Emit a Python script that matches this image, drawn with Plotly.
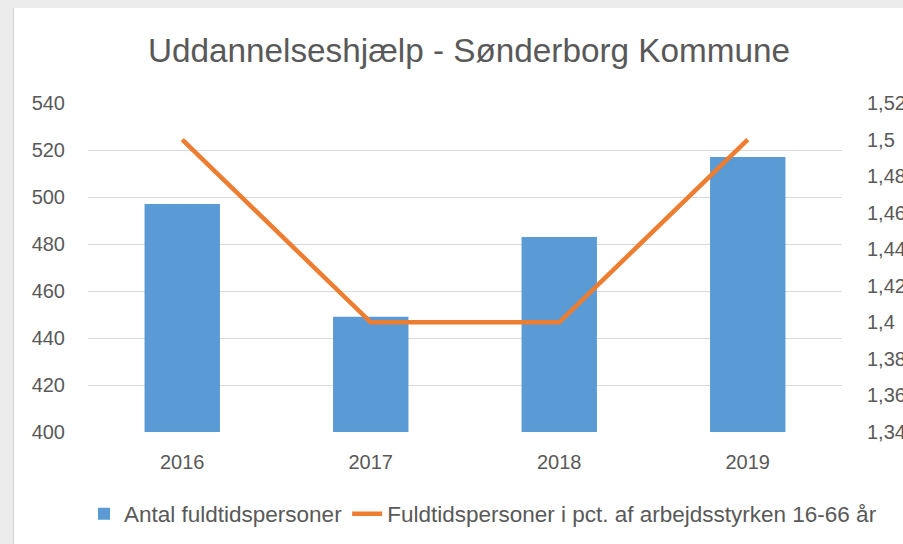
import plotly.graph_objects as go

years = ["2016", "2017", "2018", "2019"]
antal = [497, 449, 483, 517]
pct = [1.5, 1.4, 1.4, 1.5]

left_tickvals = [400, 420, 440, 460, 480, 500, 520, 540]
right_tickvals = [1.34, 1.36, 1.38, 1.40, 1.42, 1.44, 1.46, 1.48, 1.50, 1.52]
right_ticktext = ["1,34", "1,36", "1,38", "1,4", "1,42", "1,44", "1,46", "1,48", "1,5", "1,52"]

W, H = 903, 544
L, R, T, B = 88, 61, 103, 112
pw, ph = W - L - R, H - T - B

def px_x(p):
    return (p - L) / pw

def px_y(p):
    return (H - B - p) / ph

txt = "#595959"
font_main = "Liberation Sans, Arial"

fig = go.Figure()
fig.add_trace(go.Bar(
    x=years, y=antal, name="Antal fuldtidspersoner",
    marker=dict(color="#5b9bd5", line=dict(width=0)), width=0.4,
    yaxis="y",
))
fig.add_trace(go.Scatter(
    x=years, y=pct, name="Fuldtidspersoner i pct. af arbejdsstyrken 16-66 år",
    mode="lines", line=dict(color="#ed7d31", width=4.5), yaxis="y2",
))

shapes = [
    dict(type="rect", xref="paper", yref="paper", x0=px_x(0), x1=px_x(W), y0=px_y(0), y1=px_y(8),
         fillcolor="#ececec", line=dict(width=0), layer="below"),
    dict(type="rect", xref="paper", yref="paper", x0=px_x(0), x1=px_x(13), y0=px_y(H), y1=px_y(0),
         fillcolor="#ececec", line=dict(width=0), layer="below"),
    dict(type="line", xref="paper", yref="paper", x0=px_x(13.5), x1=px_x(13.5), y0=px_y(H), y1=px_y(8),
         line=dict(color="#d4d4d4", width=1), layer="below"),
]

fig.update_layout(
    template="none",
    width=W, height=H,
    margin=dict(l=L, r=R, t=T, b=B, pad=0, autoexpand=False),
    paper_bgcolor="white", plot_bgcolor="white",
    separators=",.",
    title=dict(text="Uddannelseshjælp - Sønderborg Kommune", x=px_x(469), xref="paper", xanchor="center",
               y=1 - 50 / H, yanchor="middle",
               font=dict(family=font_main, size=33.3, color=txt)),
    xaxis=dict(type="category", showgrid=False, showline=False, ticks="outside", ticklen=12,
               tickcolor="rgba(0,0,0,0)",
               tickfont=dict(family=font_main, size=20, color=txt), zeroline=False, automargin=False),
    yaxis=dict(range=[400, 540], tickvals=left_tickvals, showgrid=True, gridcolor="#d9d9d9", gridwidth=1,
               zeroline=False, showline=False, ticks="outside", ticklen=18, tickcolor="rgba(0,0,0,0)",
               tickfont=dict(family=font_main, size=20, color=txt), automargin=False),
    yaxis2=dict(range=[1.34, 1.52], overlaying="y", side="right", tickvals=right_tickvals,
                ticktext=right_ticktext, showgrid=False, zeroline=False, showline=False,
                ticks="outside", ticklen=20, tickcolor="rgba(0,0,0,0)",
                tickfont=dict(family=font_main, size=20, color=txt), automargin=False),
    legend=dict(orientation="h", x=px_x(84), xanchor="left", y=px_y(514), yanchor="middle",
                font=dict(family=font_main, size=22.5, color=txt), itemwidth=30,
                traceorder="normal", bgcolor="rgba(0,0,0,0)"),
    shapes=shapes,
    showlegend=True,
)

fig.write_html("out.html", post_script="document.body.style.margin='0';",
               config={"displayModeBar": False})
